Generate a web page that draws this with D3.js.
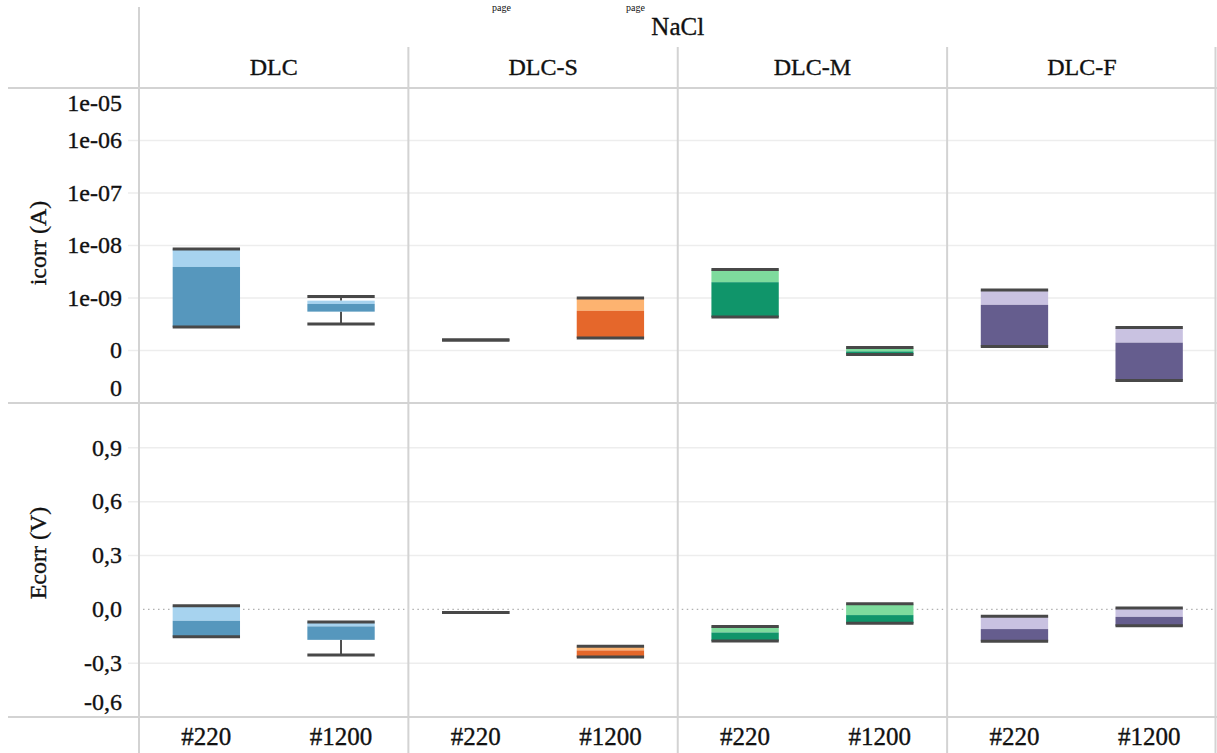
<!DOCTYPE html>
<html>
<head>
<meta charset="utf-8">
<script src="https://cdn.jsdelivr.net/npm/d3@7"></script>
<style>
  html, body { margin: 0; padding: 0; background: #fff; }
  svg { display: block; }
  text { font-family: "Liberation Serif", "Times New Roman", serif; fill: #111; stroke: #111; stroke-width: 0.35px; }
</style>
</head>
<body>
<svg id="chart" width="1217" height="753"></svg>
<script>
// ---------- data ----------
const groups = ["DLC", "DLC-S", "DLC-M", "DLC-F"];
const grits = ["#220", "#1200"];
// order: DLC #220, DLC #1200, DLC-S #220, DLC-S #1200, DLC-M #220, DLC-M #1200, DLC-F #220, DLC-F #1200
const icorrMin = [2.8e-10, 3.2e-10, 1.58e-10, 1.73e-10, 4.35e-10, 8.4e-11, 1.19e-10, 2.69e-11];
const icorrQ1  = [2.8e-10, 5.5e-10, 1.58e-10, 1.73e-10, 4.35e-10, 8.4e-11, 1.19e-10, 2.69e-11];
const icorrMed = [3.9e-9, 7.7e-10, 1.58e-10, 5.7e-10, 2.0e-9, 9.6e-11, 7.4e-10, 1.41e-10];
const icorrQ3  = [8.6e-9, 8.9e-10, 1.58e-10, 1.0e-9, 3.5e-9, 1.14e-10, 1.42e-9, 2.74e-10];
const icorrMax = [8.6e-9, 1.07e-9, 1.58e-10, 1.0e-9, 3.5e-9, 1.14e-10, 1.42e-9, 2.74e-10];

const ecorrMin = [-0.153, -0.254, -0.018, -0.265, -0.176, -0.078, -0.178, -0.092];
const ecorrQ1  = [-0.153, -0.170, -0.018, -0.265, -0.176, -0.078, -0.178, -0.092];
const ecorrMed = [-0.064, -0.095, -0.018, -0.229, -0.129, -0.032, -0.110, -0.042];
const ecorrQ3  = [0.020, -0.070, -0.018, -0.206, -0.095, 0.031, -0.039, 0.008];
const ecorrMax = [0.020, -0.070, -0.018, -0.206, -0.095, 0.031, -0.039, 0.008];

const icorrTicks = [1e-5, 1e-6, 1e-7, 1e-8, 1e-9, 1e-10, 1e-11];
const icorrTickLabels = ["1e-05", "1e-06", "1e-07", "1e-08", "1e-09", "0", "0"];
const ecorrTicks = [0.9, 0.6, 0.3, 0.0, -0.3, -0.6];
const ecorrTickLabels = ["0,9", "0,6", "0,3", "0,0", "-0,3", "-0,6"];

const lightColors = ["#a7d3ef", "#fdb370", "#7edb9d", "#c9c2e1"];
const darkColors  = ["#5697bd", "#e5672b", "#10956a", "#655d8e"];

const superTitle = "NaCl";
const yTitles = ["icorr (A)", "Ecorr (V)"];
const pageWords = ["page", "page"];

// ---------- layout ----------
const svg = d3.select("#chart");
const W = 1217, H = 753;
const leftX = 139, rightX = 1216.5;
const headerTop = 88, rowMid = 403, rowBot = 717;
const lineCol = "#d3d3d3", gridCol = "#ededed";

const outer = d3.scaleBand().domain(groups).range([leftX, rightX]);
const inner = d3.scaleBand().domain(grits).range([0, outer.bandwidth()]);
const boxW = inner.bandwidth() * 0.5;

const yI = d3.scaleLog().domain([1e-11, 1e-5]).range([rowMid, headerTop]);
const yE = d3.scaleLinear().domain([-0.6, 1.15]).range([rowBot, rowMid]);

// remnants of the document text at the very top (kept fully inside the picture)
svg.append("g").selectAll("text").data(pageWords).join("text")
  .attr("x", (d, i) => [492, 626][i]).attr("y", 11)
  .attr("font-size", 10).style("stroke-width", 0).text(d => d);

// gridlines
function grid(scale, ticks) {
  svg.append("g").selectAll("line").data(ticks.filter(t => {
      const y = scale(t); return y > headerTop + 3 && y < rowBot - 3 && Math.abs(y - rowMid) > 3;
    }).filter(t => !(scale === yE && t === 0)))
    .join("line")
    .attr("x1", 128).attr("x2", rightX)
    .attr("y1", d => scale(d)).attr("y2", d => scale(d))
    .attr("stroke", gridCol).attr("stroke-width", 1.5);
}
grid(yI, icorrTicks);
grid(yE, ecorrTicks);

// zero line (dotted) per panel
svg.append("g").selectAll("line").data(groups).join("line")
  .attr("x1", d => outer(d) + 4).attr("x2", d => outer(d) + outer.bandwidth() - 4)
  .attr("y1", yE(0)).attr("y2", yE(0))
  .attr("stroke", "#b0b0b0").attr("stroke-width", 1.4).attr("stroke-dasharray", "1.5,3.5");

// structural lines
const struct = svg.append("g").attr("stroke", lineCol).attr("stroke-width", 2);
[headerTop, rowMid, rowBot].forEach(y =>
  struct.append("line").attr("x1", 8).attr("x2", W).attr("y1", y).attr("y2", y));
struct.append("line").attr("x1", leftX).attr("x2", leftX).attr("y1", 7).attr("y2", H);
groups.slice(1).forEach(g =>
  struct.append("line").attr("x1", outer(g)).attr("x2", outer(g)).attr("y1", 47).attr("y2", H));
struct.append("line").attr("x1", rightX - 1).attr("x2", rightX - 1).attr("y1", 47).attr("y2", H);

// headers
svg.append("text").attr("x", (leftX + rightX) / 2).attr("y", 35)
  .attr("text-anchor", "middle").attr("font-size", 25).text(superTitle);
svg.append("g").selectAll("text").data(groups).join("text")
  .attr("x", d => outer(d) + outer.bandwidth() / 2).attr("y", 75)
  .attr("text-anchor", "middle").attr("font-size", 24).text(d => d);

// axes
function yAxis(scale, ticks, labels, top, bottom) {
  const g = svg.append("g").attr("transform", "translate(128,0)")
    .call(d3.axisLeft(scale).tickValues(ticks).tickSize(0).tickPadding(6)
      .tickFormat((d, i) => labels[i]));
  g.select(".domain").remove();
  g.selectAll(".tick")
    .attr("transform", d => `translate(0,${Math.max(top + 15, Math.min(bottom - 15, scale(d)))})`);
  g.selectAll("text").attr("font-size", 24).attr("font-family", "Liberation Serif")
    .attr("fill", "#111");
}
yAxis(yI, icorrTicks, icorrTickLabels, headerTop, rowMid);
yAxis(yE, ecorrTicks, ecorrTickLabels, rowMid, rowBot);

svg.append("text").attr("transform", "translate(46,243) rotate(-90)")
  .attr("text-anchor", "middle").attr("font-size", 24).text(yTitles[0]);
svg.append("text").attr("transform", "translate(46,553) rotate(-90)")
  .attr("text-anchor", "middle").attr("font-size", 24).text(yTitles[1]);

// x labels
const xl = svg.append("g");
groups.forEach(g => {
  xl.selectAll(null).data(grits).join("text")
    .attr("x", d => outer(g) + inner(d) + inner.bandwidth() / 2).attr("y", 745)
    .attr("text-anchor", "middle").attr("font-size", 25).text(d => d);
});

// boxes
const rows = [];
groups.forEach((g, gi) => grits.forEach((s, si) => rows.push({ g, s, gi, i: gi * 2 + si })));

function drawBoxes(scale, mn, q1, md, q3, mx) {
  const layer = svg.append("g");
  rows.forEach(r => {
    const cx = outer(r.g) + inner(r.s) + inner.bandwidth() / 2;
    const x0 = cx - boxW / 2;
    const yMin = scale(mn[r.i]), yQ1 = scale(q1[r.i]), yMd = scale(md[r.i]),
          yQ3 = scale(q3[r.i]), yMax = scale(mx[r.i]);
    layer.append("line").attr("x1", cx).attr("x2", cx).attr("y1", yQ1).attr("y2", yMin)
      .attr("stroke", "#4d4d4d").attr("stroke-width", 2);
    layer.append("line").attr("x1", cx).attr("x2", cx).attr("y1", yQ3).attr("y2", yMax)
      .attr("stroke", "#4d4d4d").attr("stroke-width", 2);
    layer.append("rect").attr("x", x0).attr("width", boxW)
      .attr("y", yQ3).attr("height", Math.max(0, yMd - yQ3)).attr("fill", lightColors[r.gi]);
    layer.append("rect").attr("x", x0).attr("width", boxW)
      .attr("y", yMd).attr("height", Math.max(0, yQ1 - yMd)).attr("fill", darkColors[r.gi]);
    [yMin, yMax].forEach(y =>
      layer.append("line").attr("x1", x0).attr("x2", x0 + boxW).attr("y1", y).attr("y2", y)
        .attr("stroke", "#484848").attr("stroke-width", 3));
  });
}
drawBoxes(yI, icorrMin, icorrQ1, icorrMed, icorrQ3, icorrMax);
drawBoxes(yE, ecorrMin, ecorrQ1, ecorrMed, ecorrQ3, ecorrMax);
</script>
</body>
</html>
